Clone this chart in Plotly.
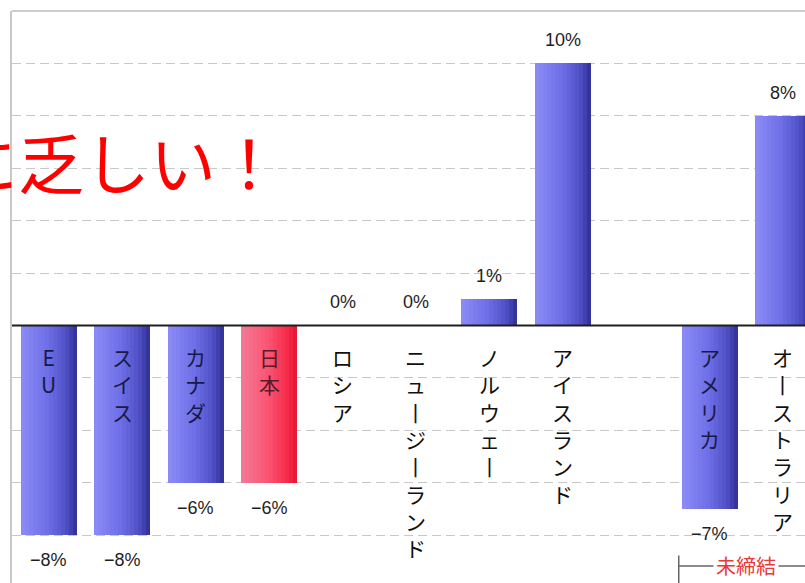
import plotly.graph_objects as go

# Tariff change by trade partner (%), grouped: concluded agreements, then unconcluded
countries = ["EU", "スイス", "カナダ", "日本", "ロシア", "ニュージーランド",
             "ノルウェー", "アイスランド", "アメリカ", "オーストラリア"]
values = [-8, -8, -6, -6, 0, 0, 1, 10, -7, 8]
highlight = "日本"
unconcluded = ["アメリカ", "オーストラリア"]
headline = "に乏しい！"
bracket_label = "未締結"

# slot order on the axis: a blank slot separates the unconcluded group
slots = countries[:8] + [None] + countries[8:]
xpos = [slots.index(c) for c in countries]

BAR_W = 0.763
N_SLICES = 14


def lerp(stops, t):
    for (t0, c0), (t1, c1) in zip(stops, stops[1:]):
        if t0 <= t <= t1:
            f = (t - t0) / (t1 - t0)
            return tuple(round(a + (b - a) * f) for a, b in zip(c0, c1))
    return stops[-1][1]


blue_stops = [(0, (140, 140, 248)), (0.45, (112, 112, 232)),
              (0.8, (80, 80, 198)), (1.0, (46, 46, 146))]
red_stops = [(0, (244, 122, 150)), (0.5, (250, 82, 112)),
             (0.85, (246, 40, 70)), (1.0, (225, 20, 50))]

fig = go.Figure()

# each bar is built from thin vertical slices to give a horizontal gradient
w = BAR_W / N_SLICES
for i in range(N_SLICES):
    t = (i + 0.5) / N_SLICES
    cols = []
    for c in countries:
        rgb = lerp(red_stops if c == highlight else blue_stops, t)
        cols.append("rgb(%d,%d,%d)" % rgb)
    fig.add_trace(go.Bar(
        x=xpos, y=values, width=w, offset=-BAR_W / 2 + i * w,
        marker=dict(color=cols, line=dict(width=0)),
        hoverinfo="skip", showlegend=False,
    ))

# vertical category names under the zero line (long vowel mark turned upright)
for c, x, v in zip(countries, xpos, values):
    vert = "<br>".join(ch if ch != "ー" else "丨" for ch in c)
    if v < 0:
        col = "#5a1a2c" if c == highlight else "#1a1a48"
    else:
        col = "#111111"
    fig.add_annotation(x=x, y=0, xref="x", yref="y", text=vert,
                       showarrow=False, yanchor="top", xanchor="center",
                       yshift=-15, align="center",
                       font=dict(family="Noto Sans CJK JP", size=21, color=col))

# value labels
for x, v in zip(xpos, values):
    txt = f"{v}%".replace("-", "\u2212")
    fig.add_annotation(x=x, y=v, xref="x", yref="y", text=txt,
                       showarrow=False, yanchor="middle", xanchor="center",
                       yshift=23 if v >= 0 else -25,
                       font=dict(family="Liberation Sans", size=18, color="#1e1e1e"))

# bracket marking the unconcluded partners
g0 = min(slots.index(c) for c in unconcluded)
g1 = max(slots.index(c) for c in unconcluded)
br_y = -9.18
fig.add_shape(type="line", xref="x", yref="y", x0=g0 - 0.42, x1=g0 - 0.42,
              y0=-8.78, y1=-10, line=dict(color="#666666", width=1.5))
fig.add_shape(type="line", xref="x", yref="y", x0=g0 - 0.42, x1=g1 + 0.6,
              y0=br_y, y1=br_y, line=dict(color="#666666", width=1.5))
fig.add_annotation(x=(g0 + g1) / 2, y=br_y, xref="x", yref="y",
                   text=bracket_label, showarrow=False, bgcolor="white",
                   borderpad=2,
                   font=dict(family="Noto Sans CJK JP", size=20, color="#e83838"))

# zero baseline and top frame
fig.add_shape(type="line", xref="paper", yref="y", x0=0, x1=1, y0=0, y1=0,
              line=dict(color="#1e1e1e", width=2), layer="above")
fig.add_shape(type="line", xref="paper", yref="paper", x0=0, x1=1, y0=1, y1=1,
              line=dict(color="#cccccc", width=2), layer="above")

# headline overlay
fig.add_annotation(x=(284 - 12) / 793, y=(583 - 160) / 572, xref="paper", yref="paper",
                   text=headline, showarrow=False, xanchor="right", yanchor="middle",
                   font=dict(family="Noto Sans CJK JP", size=66, color="#ff0000"))

fig.update_layout(
    width=805, height=583,
    margin=dict(l=12, r=0, t=11, b=0, autoexpand=False),
    paper_bgcolor="white", plot_bgcolor="white",
    barmode="overlay", bargap=0,
    xaxis=dict(range=[-0.504, 10.30], showgrid=False, zeroline=False,
               showticklabels=False, ticks="", fixedrange=True),
    yaxis=dict(range=[-9.83, 12], dtick=2, tick0=0, showgrid=True,
               gridcolor="#c8c8c8", gridwidth=1, griddash="9px,5px",
               zeroline=False, showticklabels=False, ticks="",
               showline=True, linecolor="#c8c8c8", linewidth=2),
)

fig.write_html("out.html")
